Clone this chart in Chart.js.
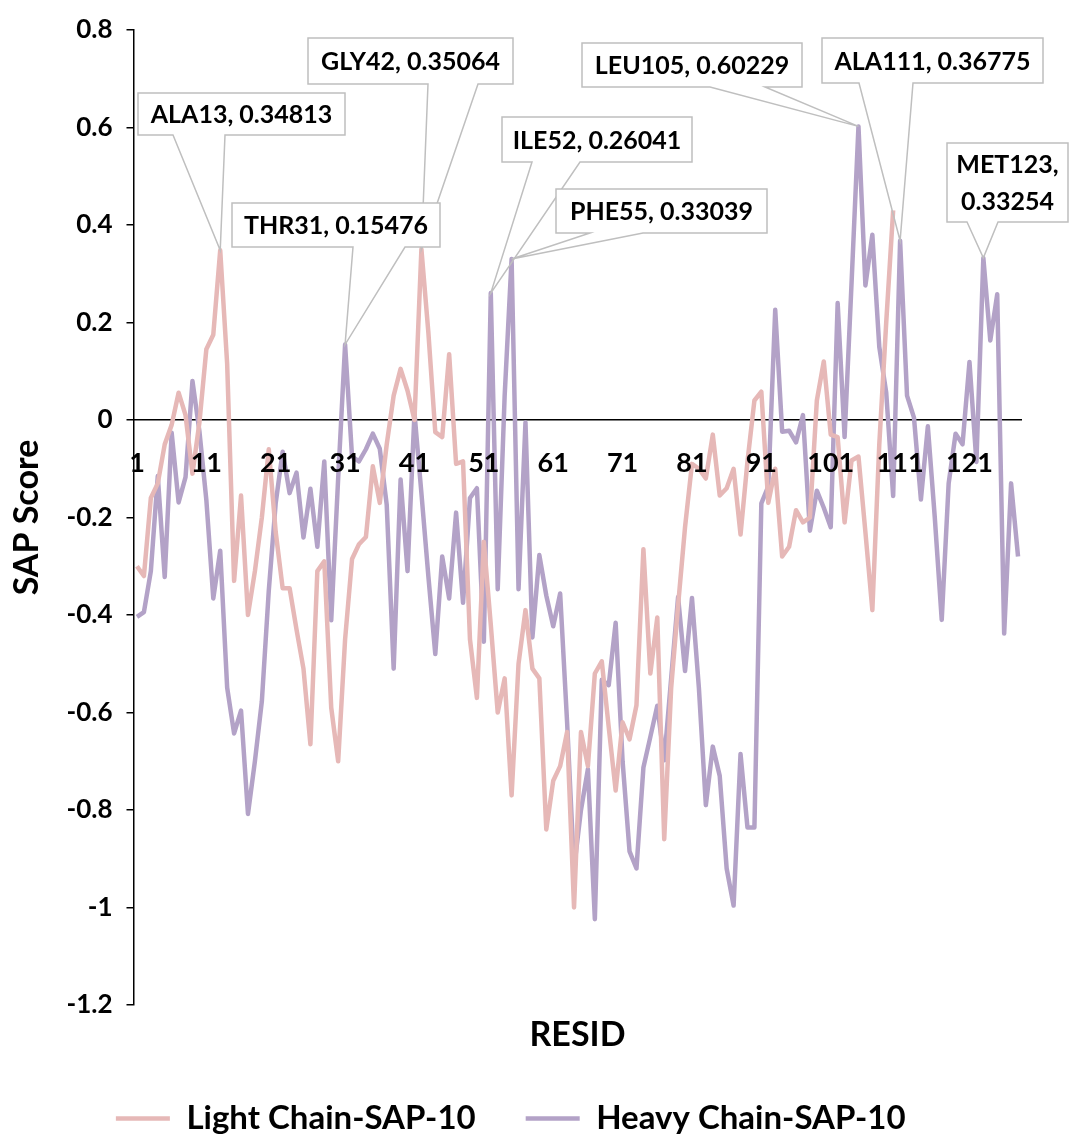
<!DOCTYPE html>
<html>
<head>
<meta charset="utf-8">
<title>SAP Score by residue</title>
<script src="https://cdn.jsdelivr.net/npm/chart.js@4.4.1/dist/chart.umd.min.js"></script>
<style>
  html, body { margin: 0; padding: 0; background: #fff; }
  #wrap { width: 1069px; height: 1138px; }
</style>
</head>
<body>
<div id="wrap"><canvas id="sapChart" width="1069" height="1138"></canvas></div>
<script>
// SAP-10 scores per residue, light chain (110 residues) and heavy chain (128 residues)
const lightChain = [
  -0.30, -0.32, -0.16, -0.13, -0.05, -0.01, 0.056, 0.01, -0.11, -0.005,
  0.145, 0.175, 0.34813, 0.115, -0.33, -0.155, -0.40, -0.31, -0.20, -0.06,
  -0.23, -0.345, -0.345, -0.43, -0.51, -0.665, -0.31, -0.29, -0.59, -0.70,
  -0.45, -0.285, -0.255, -0.24, -0.095, -0.17, -0.05, 0.05, 0.105, 0.06,
  0.0, 0.35064, 0.18, -0.025, -0.035, 0.135, -0.09, -0.085, -0.45, -0.57,
  -0.25, -0.42, -0.60, -0.53, -0.77, -0.50, -0.39, -0.51, -0.53, -0.84,
  -0.74, -0.71, -0.64, -1.0, -0.64, -0.71, -0.52, -0.495, -0.63, -0.76,
  -0.62, -0.655, -0.585, -0.265, -0.52, -0.405, -0.86, -0.55, -0.38, -0.22,
  -0.09, -0.10, -0.12, -0.03, -0.155, -0.14, -0.10, -0.235, -0.085, 0.04,
  0.058, -0.17, -0.10, -0.28, -0.26, -0.185, -0.21, -0.20, 0.04, 0.12,
  -0.03, -0.035, -0.21, -0.083, -0.075, -0.23, -0.39, -0.05, 0.20, 0.43
];

const heavyChain = [
  -0.404, -0.394, -0.31, -0.115, -0.322, -0.026, -0.169, -0.117, 0.08, -0.023,
  -0.164, -0.366, -0.268, -0.549, -0.643, -0.596, -0.808, -0.70, -0.577, -0.35,
  -0.17, -0.065, -0.15, -0.108, -0.241, -0.141, -0.26, -0.085, -0.411, -0.12,
  0.15476, -0.075, -0.085, -0.06, -0.028, -0.059, -0.174, -0.51, -0.122, -0.31,
  0.014, -0.15, -0.32, -0.48, -0.28, -0.366, -0.19, -0.375, -0.16, -0.14,
  -0.455, 0.26041, -0.347, 0.05, 0.33039, -0.347, -0.005, -0.446, -0.277, -0.36,
  -0.423, -0.356, -0.62, -0.92, -0.80, -0.716, -1.024, -0.533, -0.544, -0.416,
  -0.70, -0.885, -0.92, -0.713, -0.65, -0.586, -0.698, -0.53, -0.363, -0.515,
  -0.365, -0.55, -0.79, -0.67, -0.73, -0.92, -0.996, -0.685, -0.836, -0.836,
  -0.171, -0.136, 0.226, -0.024, -0.022, -0.046, 0.01, -0.227, -0.145, -0.18,
  -0.22, 0.24, -0.035, 0.28, 0.60229, 0.276, 0.38, 0.15, 0.056, -0.156,
  0.36775, 0.05, 0.005, -0.163, -0.013, -0.20, -0.41, -0.13, -0.028, -0.05,
  0.119, -0.086, 0.33254, 0.163, 0.258, -0.438, -0.13, -0.28
];

// residue numbers along the x axis
const resid = Array.from({ length: heavyChain.length }, (_, i) => String(i + 1));

// labelled residues: name, chain, residue number
const calloutNames = ["ALA13", "GLY42", "THR31", "ILE52", "PHE55", "LEU105", "ALA111", "MET123"];
const calloutChain = ["light", "light", "heavy", "heavy", "heavy", "heavy", "heavy", "heavy"];
const calloutResid = [13, 42, 31, 52, 55, 105, 111, 123];

// box placement for each callout: [left, top, right, bottom], wedge base x's
const calloutBoxes = [
  { rect: [138, 93, 345, 135], base: [173, 225] },
  { rect: [308, 38, 513, 84], base: [428, 478] },
  { rect: [232, 203, 440, 247], base: [353, 405] },
  { rect: [502, 117, 692, 162], base: [532, 580] },
  { rect: [556, 189, 767, 233], base: [590, 643] },
  { rect: [582, 43, 802, 87], base: [710, 765] },
  { rect: [822, 38, 1043, 83], base: [859, 913] },
  { rect: [947, 143, 1068, 222], base: [967, 998], wrap: true }
];

const FONT = 'Lato, "Open Sans", sans-serif';
const PINK = "#e6b8b7";
const PURPLE = "#b3a2c7";

const calloutPlugin = {
  id: "callouts",
  afterDatasetsDraw(chart) {
    const { ctx, scales: { x, y } } = chart;
    ctx.save();
    calloutNames.forEach((name, i) => {
      const series = calloutChain[i] === "light" ? lightChain : heavyChain;
      const value = series[calloutResid[i] - 1];
      const tipX = x.getPixelForValue(calloutResid[i] - 1);
      const tipY = y.getPixelForValue(value);
      const box = calloutBoxes[i];
      const [l, t, r, b] = box.rect;
      const [b1, b2] = box.base;

      ctx.fillStyle = "#fff";
      ctx.fillRect(l, t, r - l, b - t);

      // box outline with the pointer wedge down to the data point
      ctx.beginPath();
      ctx.moveTo(l, t);
      ctx.lineTo(r, t);
      ctx.lineTo(r, b);
      ctx.lineTo(b2, b);
      ctx.lineTo(tipX, tipY);
      ctx.lineTo(b1, b);
      ctx.lineTo(l, b);
      ctx.closePath();
      ctx.strokeStyle = "#bfbfbf";
      ctx.lineWidth = 1.5;
      ctx.stroke();

      ctx.fillStyle = "#000";
      ctx.font = "bold 25px " + FONT;
      ctx.textAlign = "center";
      ctx.textBaseline = "middle";
      const cx = (l + r) / 2;
      if (box.wrap) {
        ctx.fillText(name + ",", cx, t + (b - t) * 0.28);
        ctx.fillText(String(value), cx, t + (b - t) * 0.74);
      } else {
        ctx.fillText(name + ", " + value, cx, (t + b) / 2 + 1);
      }
    });
    ctx.restore();
  }
};

new Chart(document.getElementById("sapChart"), {
  type: "line",
  data: {
    labels: resid,
    datasets: [
      {
        label: "Light Chain-SAP-10",
        data: lightChain,
        borderColor: PINK,
        backgroundColor: PINK,
        borderWidth: 4.5,
        pointRadius: 0,
        tension: 0,
        borderJoinStyle: "round",
        fill: false
      },
      {
        label: "Heavy Chain-SAP-10",
        data: heavyChain,
        borderColor: PURPLE,
        backgroundColor: PURPLE,
        borderWidth: 4.5,
        pointRadius: 0,
        tension: 0,
        borderJoinStyle: "round",
        fill: false
      }
    ]
  },
  options: {
    responsive: false,
    animation: false,
    devicePixelRatio: 1,
    layout: { padding: { top: 30, right: 47.5, bottom: -7, left: 0 } },
    plugins: {
      tooltip: { enabled: false },
      legend: {
        position: "bottom",
        labels: {
          usePointStyle: true,
          pointStyle: "line",
          pointStyleWidth: 54,
          padding: 50,
          color: "#000",
          font: { family: FONT, size: 33, weight: "bold" }
        }
      }
    },
    scales: {
      x: {
        type: "category",
        position: { y: 0 },
        offset: true,
        grid: { display: false, drawTicks: false },
        border: { display: true, color: "#000", width: 1.5 },
        ticks: {
          z: 1,
          autoSkip: false,
          maxRotation: 0,
          padding: 27,
          color: "#000",
          font: { family: FONT, size: 27, weight: "bold" },
          callback: function (val, i) {
            return i % 10 === 0 ? this.getLabelForValue(val) : "";
          }
        }
      },
      x2: {
        type: "category",
        position: "bottom",
        grid: { display: false, drawTicks: false },
        border: { display: false },
        ticks: { display: false },
        title: {
          display: true,
          text: "RESID",
          color: "#000",
          font: { family: FONT, size: 34, weight: "bold" },
          padding: { top: 9.6, bottom: -3.4 }
        }
      },
      y: {
        min: -1.2,
        max: 0.8,
        afterFit(scale) { scale.width = 133.5; },
        grid: { display: true, drawOnChartArea: false, drawTicks: true, tickLength: 7, color: "#000", lineWidth: 1.5 },
        border: { display: true, color: "#000", width: 1.5 },
        ticks: {
          stepSize: 0.2,
          padding: 14,
          color: "#000",
          font: { family: FONT, size: 26, weight: "bold" },
          callback: v => String(Math.round(v * 10) / 10)
        },
        title: {
          display: true,
          text: "SAP Score",
          color: "#000",
          font: { family: FONT, size: 34, weight: "bold" },
          padding: { top: 7, bottom: 0 }
        }
      }
    }
  },
  plugins: [calloutPlugin]
});
</script>
</body>
</html>
